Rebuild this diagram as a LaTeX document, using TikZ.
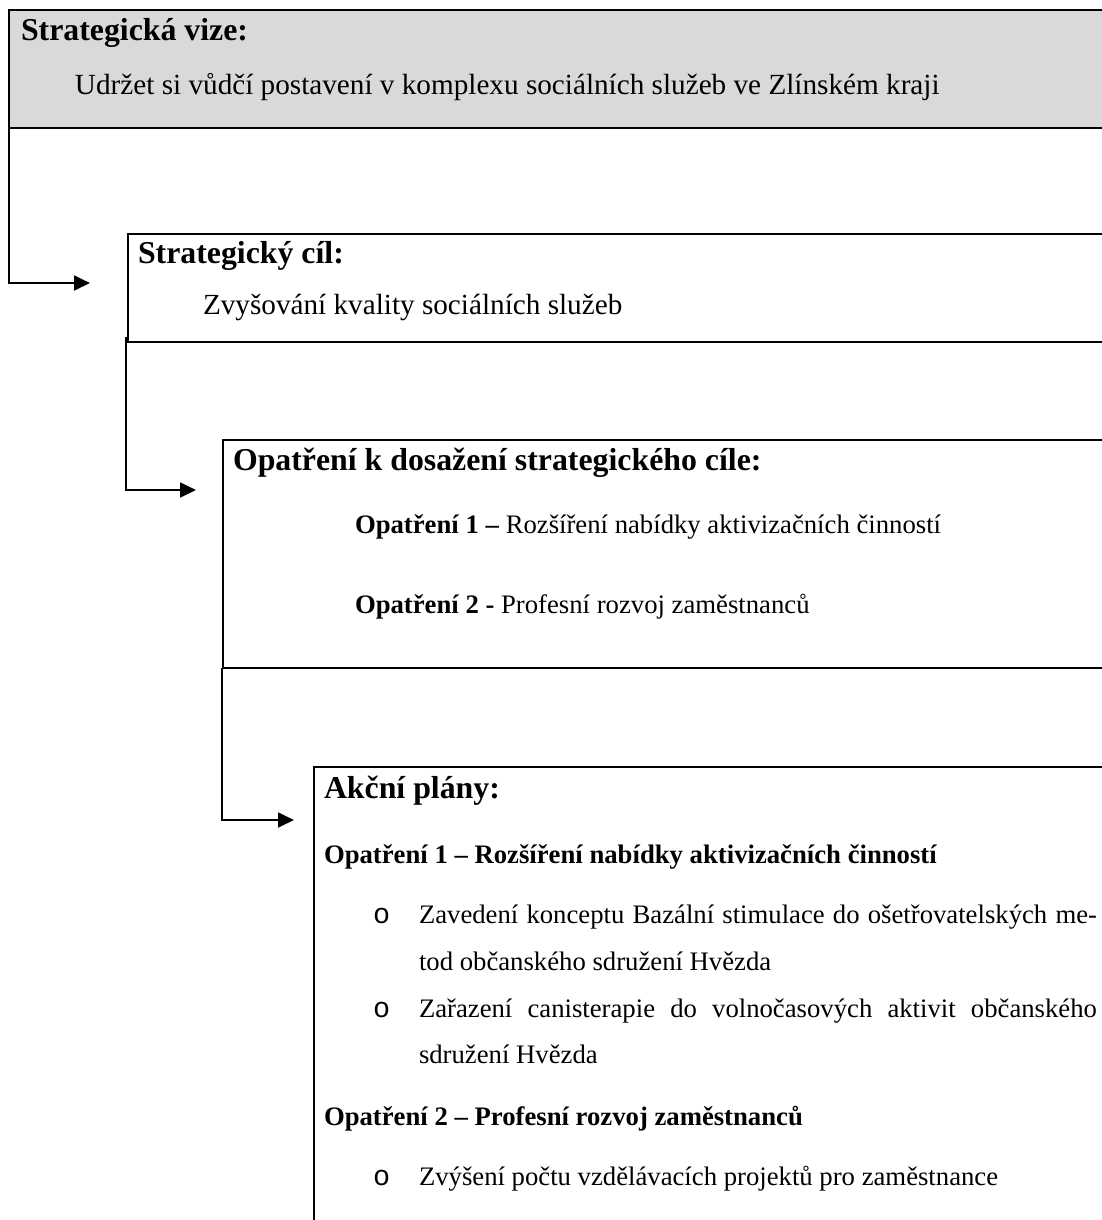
\documentclass[tikz,border=0pt]{standalone}
\usepackage{fontspec}
\setmainfont{Liberation Serif}
\newfontfamily\bulletfont{Liberation Mono}
\usetikzlibrary{arrows.meta}
\definecolor{boxgray}{HTML}{D9D9D9}
\tikzset{
  box/.style={draw=black, line width=1pt, rectangle, anchor=north west, inner sep=0pt, outer sep=0pt},
  conn/.style={draw=black, line width=1pt, -{Triangle[length=7pt,width=6.5pt]}},
  txtbig/.style={anchor=base west, inner sep=0pt, outer sep=0pt, font=\fontsize{12.85}{15}\selectfont},
  txt/.style={anchor=base west, inner sep=0pt, outer sep=0pt, font=\fontsize{11.75}{14}\selectfont},
  txtb/.style={anchor=base west, inner sep=0pt, outer sep=0pt, font=\fontsize{11.75}{14}\selectfont\bfseries},
  head/.style={anchor=base west, inner sep=0pt, outer sep=0pt, font=\fontsize{14}{16}\selectfont\bfseries},
  bul/.style={anchor=base west, inner sep=0pt, outer sep=0pt, font=\fontsize{12.5}{14}\selectfont\bulletfont},
}
\begin{document}
\begin{tikzpicture}[x=0.44pt,y=-0.44pt]
\useasboundingbox (0,0) rectangle (1102,1220);
\clip (0,0) rectangle (1102,1220);
% boxes
\node[box, fill=boxgray, minimum width=493.24pt, minimum height=51.92pt] (vize) at (9,10) {};
\node[box, minimum width=440.88pt, minimum height=47.52pt] (cil) at (128,234) {};
\node[box, minimum width=399.2pt, minimum height=100.32pt] (opat) at (222.7,440) {};
\node[box, minimum width=359.04pt, minimum height=208.12pt] (plan) at (314,767) {};
% texts
\node[head] (t-vize) at (21,40) {Strategická vize:};
\node[txtbig] (t-vize2) at (75,94) {Udržet si vůdčí postavení v komplexu sociálních služeb ve Zlínském kraji};
\node[head] (t-cil) at (138,263) {Strategický cíl:};
\node[txtbig] (t-cil2) at (203,314) {Zvyšování kvality sociálních služeb};
\node[head] (t-opat) at (233,470) {Opatření k dosažení strategického cíle:};
\node[txt] (t-op1) at (355,533) {\textbf{Opatření 1 –} Rozšíření nabídky aktivizačních činností};
\node[txt] (t-op2) at (355,613) {\textbf{Opatření 2 -} Profesní rozvoj zaměstnanců};
\node[head] (t-plan) at (324,798) {Akční plány:};
\node[txtb] (p-op1) at (324,863) {Opatření 1 – Rozšíření nabídky aktivizačních činností};
\node[bul] (b1) at (373,923) {o};
\node[txt] (l1) at (419,923) {\makebox[298.3pt][s]{Zavedení konceptu Bazální stimulace do ošetřovatelských me-}};
\node[txt] (l2) at (419,970) {tod občanského sdružení Hvězda};
\node[bul] (b2) at (373,1017) {o};
\node[txt] (l3) at (419,1017) {\makebox[298.3pt][s]{Zařazení canisterapie do volnočasových aktivit občanského}};
\node[txt] (l4) at (419,1063) {sdružení Hvězda};
\node[txtb] (p-op2) at (324,1125) {Opatření 2 – Profesní rozvoj zaměstnanců};
\node[bul] (b3) at (373,1185) {o};
\node[txt] (l5) at (419,1185) {Zvýšení počtu vzdělávacích projektů pro zaměstnance};
% connectors
\coordinate (a1) at (90,283);
\coordinate (a2) at (196,490);
\coordinate (a3) at (294,820);
\draw[conn] (vize.south west) |- (a1);
\draw[conn] ([xshift=-0.9pt,yshift=2pt]cil.south west) |- (a2);
\draw[conn] ([xshift=-0.4pt]opat.south west) |- (a3);
\end{tikzpicture}
\end{document}
